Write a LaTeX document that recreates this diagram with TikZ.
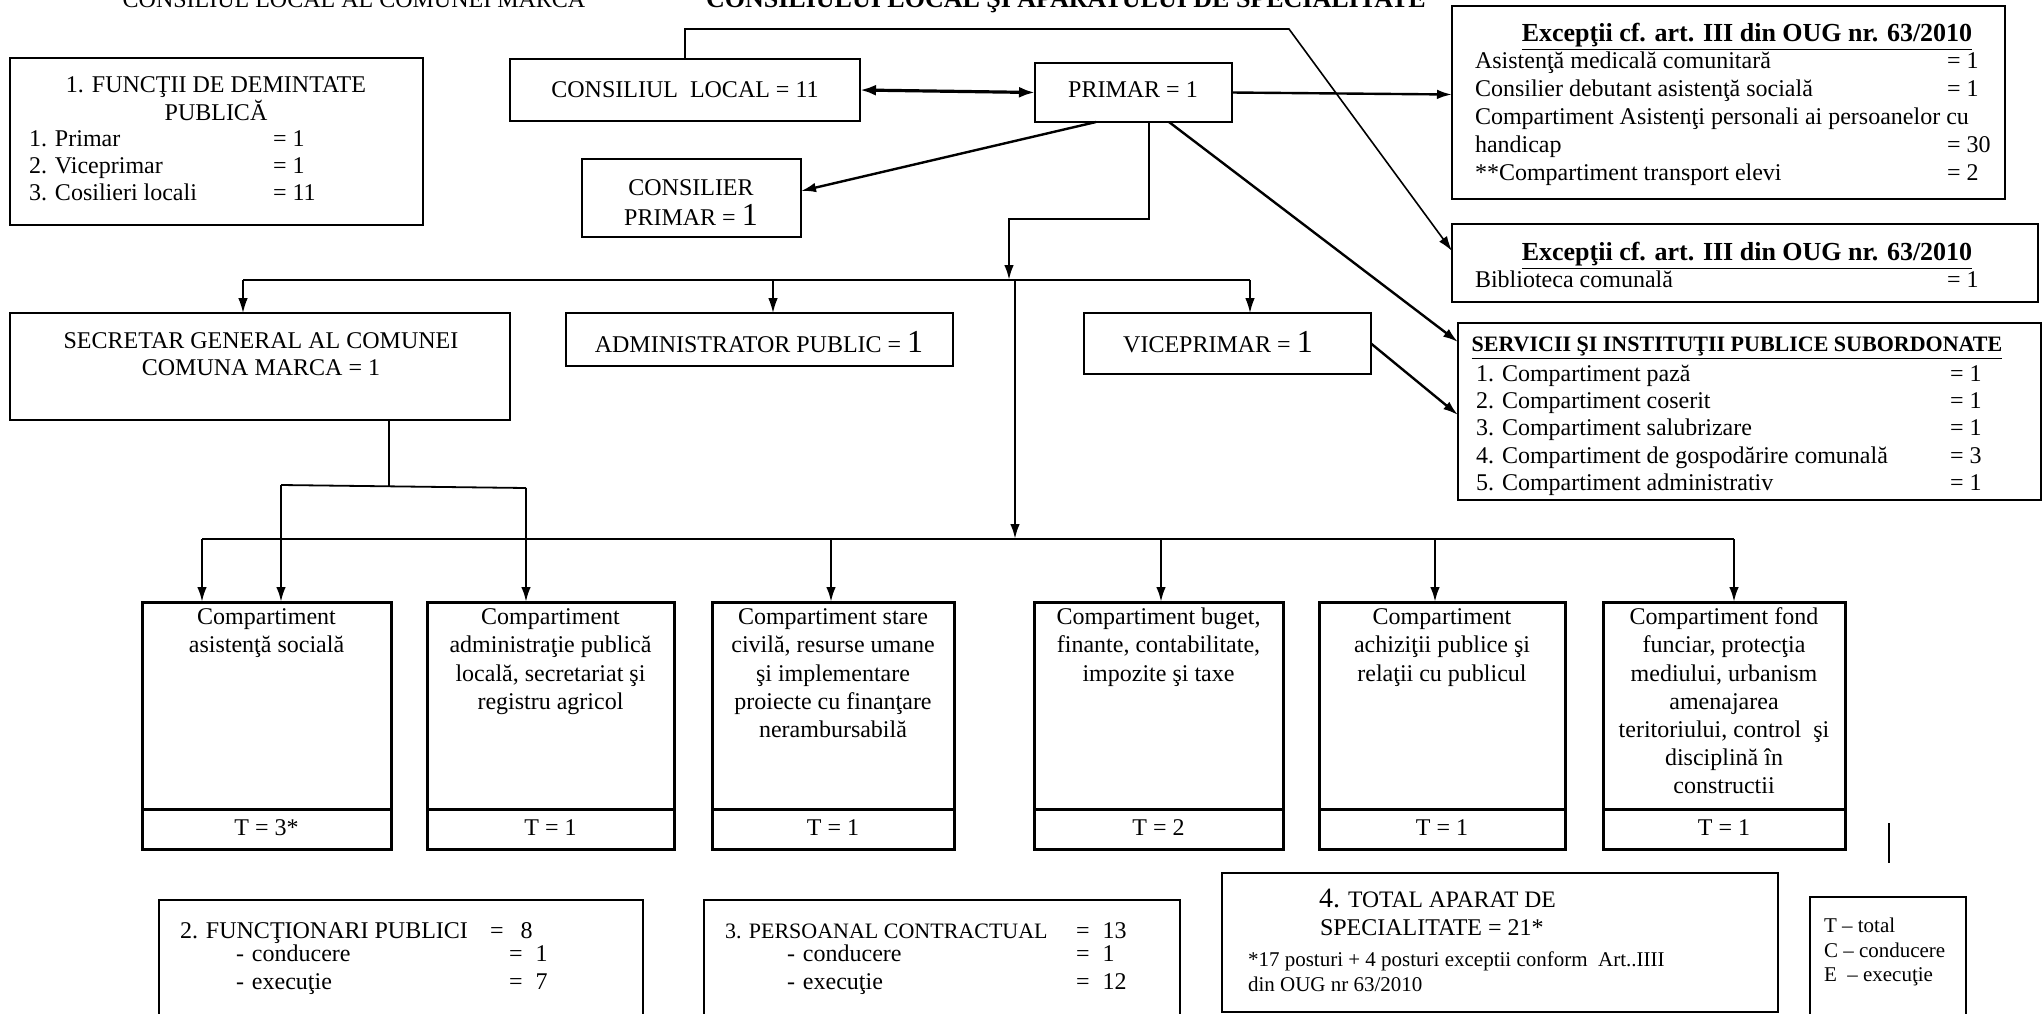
\documentclass[tikz,border=0pt]{standalone}
\usepackage{fontspec}
\setmainfont{Liberation Serif}
\usetikzlibrary{arrows.meta}
\newcommand{\mkbox}[6][box]{%
  \pgfmathsetmacro{\mybw}{(#5-#3)/2}%
  \pgfmathsetmacro{\mybh}{(#6-#4)/2}%
  \node[#1, minimum width=\mybw pt, minimum height=\mybh pt] (#2) at ({(#3+#5)/2},{(#4+#6)/2}) {};}
\newcommand{\bigone}{{\fontsize{16}{18}\selectfont 1}}
\begin{document}
\begin{tikzpicture}[x=0.5pt,y=-0.5pt,
  every node/.style={font=\fontsize{12}{13.8}\selectfont, inner sep=0pt, outer sep=0pt},
  box/.style={draw, line width=0.9pt},
  cbox/.style={draw, line width=1.5pt},
  hdr/.style={font=\bfseries\fontsize{13}{15}\selectfont},
  shdr/.style={font=\bfseries\fontsize{11}{13}\selectfont},
  small/.style={font=\fontsize{10.5}{12}\selectfont},
  arr/.style={line width=1.2pt, -{Latex[length=7.5pt,width=4.8pt]}},
  tarr/.style={line width=0.8pt, -{Latex[length=7.5pt,width=4.8pt]}},
  ln/.style={line width=0.9pt},
  tln/.style={line width=0.6pt},
  ctext/.style={anchor=north, align=center, font=\fontsize{12}{14.1}\selectfont},
]
\useasboundingbox (0,0) rectangle (2042,1013);

% ---------- titles ----------
\node[anchor=base] (tt1) at (354,7) {CONSILIUL LOCAL AL COMUNEI MARCA};
\node[hdr, anchor=base] (tt2) at (1066,7) {CONSILIULUI LOCAL ŞI APARATULUI DE SPECIALITATE};

% ---------- boxes ----------
\mkbox{f1}{10}{58}{423}{225}
\mkbox{cl}{510}{59}{860}{121}
\mkbox{pr}{1035}{63}{1232}{122}
\mkbox{cp}{582}{159}{801}{237}
\mkbox{exa}{1452}{6}{2005}{199}
\mkbox{exb}{1452}{224}{2038}{302}
\mkbox{srv}{1458}{323}{2041}{500}
\mkbox{sec}{10}{313}{510}{420}
\mkbox{adm}{566}{313}{953}{366}
\mkbox{vp}{1084}{313}{1371}{374}

\mkbox[cbox]{c1}{142}{602}{391}{809}
\mkbox[cbox]{c2}{427}{602}{674}{809}
\mkbox[cbox]{c3}{712}{602}{954}{809}
\mkbox[cbox]{c4}{1034}{602}{1283}{809}
\mkbox[cbox]{c5}{1319}{602}{1565}{809}
\mkbox[cbox]{c6}{1603}{602}{1845}{809}
\mkbox[cbox]{t1}{142}{809}{391}{849}
\mkbox[cbox]{t2}{427}{809}{674}{849}
\mkbox[cbox]{t3}{712}{809}{954}{849}
\mkbox[cbox]{t4}{1034}{809}{1283}{849}
\mkbox[cbox]{t5}{1319}{809}{1565}{849}
\mkbox[cbox]{t6}{1603}{809}{1845}{849}

\mkbox{f2}{159}{900}{643}{1040}
\mkbox{f3}{704}{900}{1180}{1040}
\mkbox{f4}{1222}{873}{1778}{1012}
\mkbox{lg}{1810}{897}{1966}{1040}

% ---------- texts: top left ----------
\node[anchor=base] (f1a) at (216,92) {1. FUNCŢII DE DEMINTATE};
\node[anchor=base] (f1b) at (216,120) {PUBLICĂ};
\node[anchor=base west] (f1c) at (29,146) {1. Primar};
\node[anchor=base west] (f1d) at (29,173) {2. Viceprimar};
\node[anchor=base west] (f1e) at (29,200) {3. Cosilieri locali};
\node[anchor=base west] (f1f) at (273,146) {= 1};
\node[anchor=base west] (f1g) at (273,173) {= 1};
\node[anchor=base west] (f1h) at (273,200) {= 11};

\node[anchor=base] (clt) at (685,97) {CONSILIUL\ \ LOCAL\ = 11};
\node[anchor=base] (prt) at (1133,97) {PRIMAR = 1};
\node[anchor=base] (cpt1) at (691,195) {CONSILIER};
\node[anchor=base] (cpt2) at (691,225) {PRIMAR = \bigone};

% ---------- exceptions ----------
\node[hdr, anchor=base] (exah) at (1747,41) {\underline{Excepţii cf. art. III din OUG nr. 63/2010}};
\node[anchor=base west] (exa1) at (1475,68) {Asistenţă medicală comunitară};
\node[anchor=base west] (exa2) at (1475,96) {Consilier debutant asistenţă socială};
\node[anchor=base west] (exa3) at (1475,124) {Compartiment Asistenţi personali ai persoanelor cu};
\node[anchor=base west] (exa4) at (1475,152) {handicap};
\node[anchor=base west] (exa5) at (1475,180) {**Compartiment transport elevi};
\node[anchor=base west] (exa6) at (1947,68) {= 1};
\node[anchor=base west] (exa7) at (1947,96) {= 1};
\node[anchor=base west] (exa8) at (1947,152) {= 30};
\node[anchor=base west] (exa9) at (1947,180) {= 2};

\node[hdr, anchor=base] (exbh) at (1747,260) {\underline{Excepţii cf. art. III din OUG nr. 63/2010}};
\node[anchor=base west] (exb1) at (1475,287) {Biblioteca comunală};
\node[anchor=base west] (exb2) at (1947,287) {= 1};

\node[shdr, anchor=base] (srvh) at (1737,351) {\underline{SERVICII ŞI INSTITUŢII PUBLICE SUBORDONATE}};
\node[anchor=base west] (srv1) at (1476,381) {1. Compartiment pază};
\node[anchor=base west] (srv2) at (1476,408) {2. Compartiment coserit};
\node[anchor=base west] (srv3) at (1476,435.5) {3. Compartiment salubrizare};
\node[anchor=base west] (srv4) at (1476,463) {4. Compartiment de gospodărire comunală};
\node[anchor=base west] (srv5) at (1476,490) {5. Compartiment administrativ};
\node[anchor=base west] (srv6) at (1950,381) {= 1};
\node[anchor=base west] (srv7) at (1950,408) {= 1};
\node[anchor=base west] (srv8) at (1950,435.5) {= 1};
\node[anchor=base west] (srv9) at (1950,463) {= 3};
\node[anchor=base west] (srv10) at (1950,490) {= 1};

% ---------- second row ----------
\node[anchor=base] (sect1) at (261,348) {SECRETAR GENERAL AL COMUNEI};
\node[anchor=base] (sect2) at (261,375) {COMUNA MARCA = 1};
\node[anchor=base] (admt) at (759,352) {ADMINISTRATOR PUBLIC = \bigone};
\node[anchor=base] (vpt) at (1218,352) {VICEPRIMAR = \bigone};

% ---------- compartments ----------
\node[ctext] (c1t) at ([yshift=-1.5pt]c1.north) {\strut Compartiment\\asistenţă socială};
\node[ctext] (c2t) at ([yshift=-1.5pt]c2.north) {\strut Compartiment\\administraţie publică\\locală, secretariat şi\\registru agricol};
\node[ctext] (c3t) at ([yshift=-1.5pt]c3.north) {\strut Compartiment stare\\civilă, resurse umane\\şi implementare\\proiecte cu finanţare\\nerambursabilă};
\node[ctext] (c4t) at ([yshift=-1.5pt]c4.north) {\strut Compartiment buget,\\finante, contabilitate,\\impozite şi taxe};
\node[ctext] (c5t) at ([yshift=-1.5pt]c5.north) {\strut Compartiment\\achiziţii publice şi\\relaţii cu publicul};
\node[ctext] (c6t) at ([yshift=-1.5pt]c6.north) {\strut Compartiment fond\\funciar, protecţia\\mediului, urbanism\\amenajarea\\teritoriului, control\ \ şi\\disciplină în\\constructii};
\node[anchor=base] (t1t) at ([yshift=-3pt]t1.center) {T = 3*};
\node[anchor=base] (t2t) at ([yshift=-3pt]t2.center) {T = 1};
\node[anchor=base] (t3t) at ([yshift=-3pt]t3.center) {T = 1};
\node[anchor=base] (t4t) at ([yshift=-3pt]t4.center) {T = 2};
\node[anchor=base] (t5t) at ([yshift=-3pt]t5.center) {T = 1};
\node[anchor=base] (t6t) at ([yshift=-3pt]t6.center) {T = 1};

% ---------- bottom boxes ----------
\node[anchor=base west] (f2a) at (180,938) {2. FUNCŢIONARI PUBLICI};
\node[anchor=base west] (f2b) at (490,938) {=\hspace{8.5pt}8};
\node[anchor=base west] (f2c) at (236,961) {-\hspace{4pt}conducere};
\node[anchor=base west] (f2d) at (509,961) {=\hspace{6.5pt}1};
\node[anchor=base west] (f2e) at (236,989) {-\hspace{4pt}execuţie};
\node[anchor=base west] (f2f) at (509,989) {=\hspace{6.5pt}7};

\node[anchor=base west, font=\fontsize{11}{13}\selectfont] (f3a) at (725,938) {3. PERSOANAL CONTRACTUAL};
\node[anchor=base west] (f3b) at (1076,938) {=\hspace{6.5pt}13};
\node[anchor=base west] (f3c) at (787,961) {-\hspace{4pt}conducere};
\node[anchor=base west] (f3d) at (1076,961) {=\hspace{6.5pt}1};
\node[anchor=base west] (f3e) at (787,989) {-\hspace{4pt}execuţie};
\node[anchor=base west] (f3f) at (1076,989) {=\hspace{6.5pt}12};

\node[anchor=base west] (f4a) at (1319,907) {{\fontsize{14}{16}\selectfont 4.} {\fontsize{11.8}{13}\selectfont TOTAL APARAT DE}};
\node[anchor=base west] (f4b) at (1320,935) {SPECIALITATE = 21*};
\node[small, anchor=base west] (f4c) at (1248,966) {*17 posturi + 4 posturi exceptii conform\ \ Art..IIII};
\node[small, anchor=base west] (f4d) at (1248,991) {din OUG nr 63/2010};

\node[small, anchor=base west] (lg1) at (1824,932) {T – total};
\node[small, anchor=base west] (lg2) at (1824,957) {C – conducere};
\node[small, anchor=base west] (lg3) at (1824,981) {E\ \ – execuţie};

% ---------- connectors ----------
\draw[line width=1.6pt, {Latex[length=8pt,width=5.5pt]}-{Latex[length=8pt,width=5.5pt]}] (cl.east) -- (pr.west);

\coordinate (k2) at (1289,29);
\draw[tarr] (cl.north) |- (k2) -- ([yshift=6pt]exb.west);

\draw[arr] (pr.east) -- ([yshift=4pt]exa.west);
\draw[arr] ([xshift=-18.75pt]pr.south) -- ([yshift=3.5pt]cp.east);
\draw[arr] ([xshift=17.75pt]pr.south) -- ([yshift=-9.5pt]srv.north west);
\draw[arr] (vp.east) -- ([yshift=-1.75pt]srv.west);

\coordinate (j2) at (1009,219);
\coordinate (bustop) at (1009,280);
\draw[arr] ([xshift=7.75pt]pr.south) |- (j2) -- (bustop);

\coordinate (ub1) at (243,280);
\coordinate (ua) at (773,280);
\coordinate (ub2) at (1250,280);
\draw[ln] (ub1) -- (ub2);
\draw[tarr] (ub1) -- (ub1 |- sec.north);
\draw[tarr] (ua) -- (ua |- adm.north);
\draw[tarr] (ub2) -- (ub2 |- vp.north);

\coordinate (lv1) at (1015,280);
\coordinate (lv2) at (1015,539);
\draw[arr] (lv1) -- (lv2);

\coordinate (lb1) at (202,539);
\coordinate (lb2) at (1734,539);
\coordinate (d3) at (831,539);
\coordinate (d4) at (1161,539);
\coordinate (d5) at (1435,539);
\draw[ln] (lb1) -- (lb2);
\draw[arr] (lb1) -- (lb1 |- c1.north);
\draw[arr] (d3) -- (d3 |- c3.north);
\draw[arr] (d4) -- (d4 |- c4.north);
\draw[arr] (d5) -- (d5 |- c5.north);
\draw[arr] (lb2) -- (lb2 |- c6.north);

\coordinate (s1) at (389,487);
\coordinate (s2) at (281,485);
\coordinate (s3) at (526,488);
\draw[tln] (s1 |- sec.south) -- (s1);
\draw[ln] (s2) -- (s3);
\draw[arr] (s2) -- (s2 |- c1.north);
\draw[arr] (s3) -- (s3 |- c2.north);

\coordinate (v1) at (1889,823);
\coordinate (v2) at (1889,863);
\draw[tln] (v1) -- (v2);
\end{tikzpicture}
\end{document}
